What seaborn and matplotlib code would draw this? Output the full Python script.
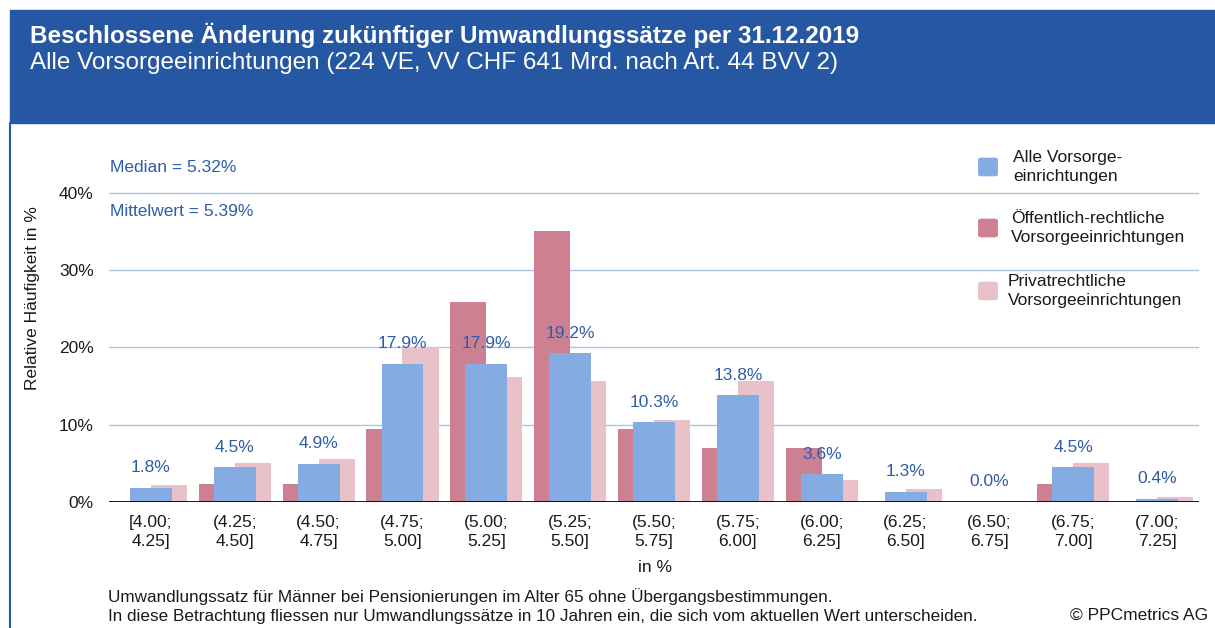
import numpy as np
import pandas as pd
import seaborn as sns
import matplotlib.pyplot as plt
from matplotlib.patches import Rectangle, FancyBboxPatch
from matplotlib.lines import Line2D

# data (in %)
categories = ["[4.00;\n4.25]", "(4.25;\n4.50]", "(4.50;\n4.75]", "(4.75;\n5.00]",
              "(5.00;\n5.25]", "(5.25;\n5.50]", "(5.50;\n5.75]", "(5.75;\n6.00]",
              "(6.00;\n6.25]", "(6.25;\n6.50]", "(6.50;\n6.75]", "(6.75;\n7.00]",
              "(7.00;\n7.25]"]
alle = [1.8, 4.5, 4.9, 17.9, 17.9, 19.2, 10.3, 13.8, 3.6, 1.3, 0.0, 4.5, 0.4]
oeff = [0.0, 2.3, 2.3, 9.4, 25.8, 35.1, 9.4, 7.0, 7.0, 0.0, 0.0, 2.3, 0.0]
priv = [2.2, 5.0, 5.6, 20.0, 16.1, 15.6, 10.6, 15.6, 2.8, 1.7, 0.0, 5.0, 0.6]
y_ticks = [0, 10, 20, 30, 40]
legend_labels = ["Alle Vorsorge-\neinrichtungen",
                 "Öffentlich-rechtliche\nVorsorgeeinrichtungen",
                 "Privatrechtliche\nVorsorgeeinrichtungen"]

BLUE = "#84ACE2"
RED = "#CD8091"
PINK = "#E8C1C9"
LBL = "#2E5CA8"
HEADER = "#2557A3"
GRID = "#A9C4E8"
TXT = "#1a1a1a"
FS = 12.5

sns.set_theme(style="white")
plt.rcParams['font.family'] = ['Liberation Sans', 'DejaVu Sans']

W, H = 1215, 628
fig = plt.figure(figsize=(W / 100, H / 100), dpi=100)


def fx(px):
    return px / W


def fy(py):
    return 1 - py / H


ymax = 41
ax = fig.add_axes([fx(109), fy(502), fx(1199) - fx(109), ymax * 7.735 / H])

idx = np.arange(len(categories))
df = pd.DataFrame({"pos": idx, "alle": alle, "oeff": oeff, "priv": priv})

sns.barplot(x=df["pos"] + 0.215, y=df["priv"], native_scale=True, width=0.43,
            color=PINK, saturation=1, errorbar=None, linewidth=0, ax=ax)
sns.barplot(x=df["pos"] - 0.215, y=df["oeff"], native_scale=True, width=0.43,
            color=RED, saturation=1, errorbar=None, linewidth=0, ax=ax)
sns.barplot(x=df["pos"], y=df["alle"], native_scale=True, width=0.5,
            color=BLUE, saturation=1, errorbar=None, linewidth=0, ax=ax)

for i, v in zip(idx, alle):
    ax.text(i, v + 2.6, f"{v:.1f}%", ha="center", va="center",
            color=LBL, fontsize=FS)

ax.set_xlim(-0.5, len(categories) - 0.5)
ax.set_ylim(0, ymax)
ax.set_yticks(y_ticks)
ax.set_yticklabels([f"{t}%" for t in y_ticks], fontsize=FS, color=TXT)
ax.set_xticks(idx)
ax.set_xticklabels(categories, fontsize=FS, color=TXT, linespacing=1.4)
ax.tick_params(axis="y", length=0, pad=11)
ax.tick_params(axis="x", length=0, pad=9)
ax.set_xlabel("")
ax.set_ylabel("")
ax.yaxis.grid(True, color=GRID, lw=1)
ax.set_axisbelow(True)
for s in ax.spines.values():
    s.set_visible(False)
ax.axhline(0, color="black", lw=2, zorder=5)

# header band and frame
fig.patches.append(Rectangle((fx(10), fy(123)), 1 - fx(10), (123 - 10) / H,
                             transform=fig.transFigure, color=HEADER, zorder=0))
fig.lines.append(Line2D([fx(10.5), fx(10.5)], [fy(123), 0], transform=fig.transFigure,
                        color=HEADER, lw=1.5))
fig.text(fx(30), fy(35), "Beschlossene Änderung zukünftiger Umwandlungssätze per 31.12.2019",
         color="white", fontsize=17.5, fontweight="bold", va="center")
fig.text(fx(30), fy(63), "Alle Vorsorgeeinrichtungen (224 VE, VV CHF 641 Mrd. nach Art. 44 BVV 2)",
         color="white", fontsize=17.5, va="center")

# stats
fig.text(fx(110), fy(168), "Median = 5.32%", color=LBL, fontsize=FS, va="center")
fig.text(fx(110), fy(211), "Mittelwert = 5.39%", color=LBL, fontsize=FS, va="center")

# legend
for (y, x_txt), col, lab in zip([(167, 1013), (228, 1011), (291, 1008)],
                                [BLUE, RED, PINK], legend_labels):
    fig.patches.append(FancyBboxPatch((fx(980), fy(y + 8)), fx(16), 16 / H,
                                      boxstyle="round,pad=0.001,rounding_size=0.002",
                                      transform=fig.transFigure, color=col))
    fig.text(fx(x_txt), fy(y), lab, fontsize=FS, va="center", color=TXT,
             linespacing=1.35)

# axis titles and notes
fig.text(fx(33), fy(298), "Relative Häufigkeit in %", rotation=90, fontsize=FS,
         ha="center", va="center", color=TXT)
fig.text(fx(655), fy(568), "in %", fontsize=FS, ha="center", va="center", color=TXT)
fig.text(fx(108), fy(597), "Umwandlungssatz für Männer bei Pensionierungen im Alter 65 ohne Übergangsbestimmungen.",
         fontsize=12.3, va="center", color=TXT)
fig.text(fx(108), fy(617), "In diese Betrachtung fliessen nur Umwandlungssätze in 10 Jahren ein, die sich vom aktuellen Wert unterscheiden.",
         fontsize=12.3, va="center", color=TXT)
fig.text(fx(1208), fy(615), "© PPCmetrics AG", fontsize=FS, ha="right", va="center", color=TXT)

fig.savefig("out.png", dpi=100)
